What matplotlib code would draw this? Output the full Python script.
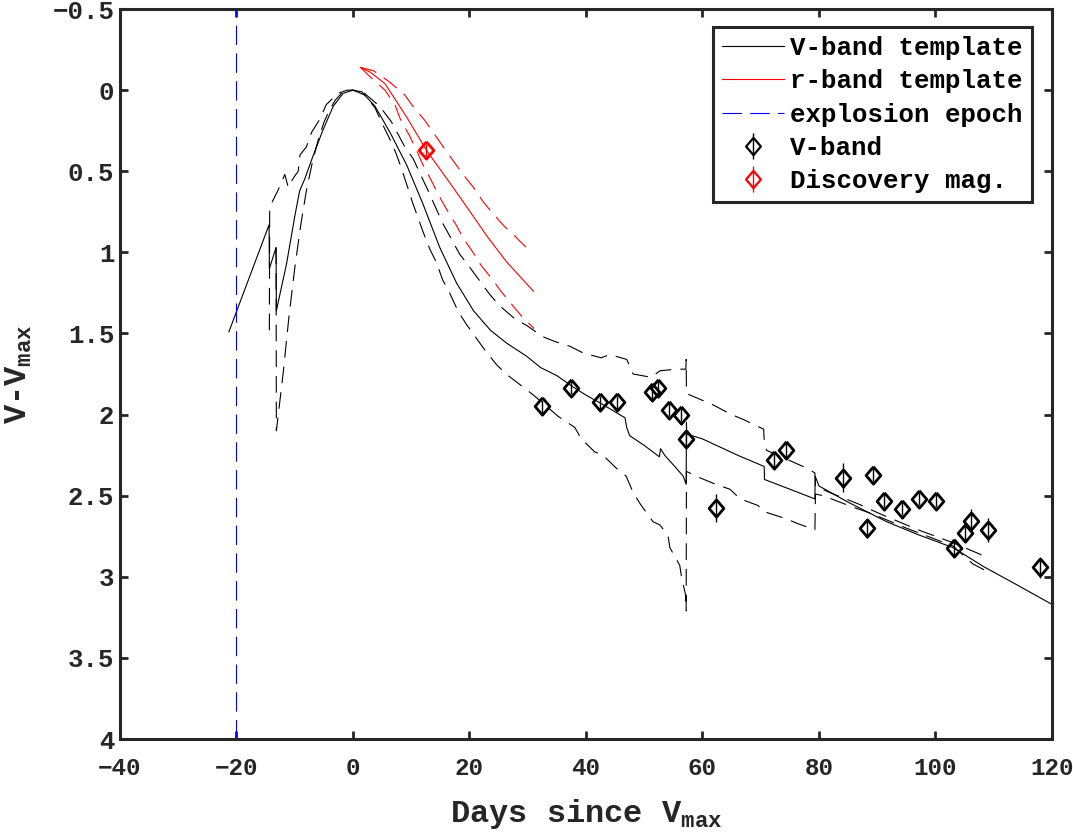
import matplotlib
matplotlib.use("Agg")
import matplotlib.pyplot as plt
import numpy as np
from matplotlib.ticker import FuncFormatter

# ---- data ----
# V-band template (solid) and its two error envelopes (dashed)
v_days = [-21.3, -14.4, -14.35, -13.2, -13.15, -11.4, -10.0, -9.15, -8.3, -6.9, -5.2, -3.4, -1.7, 0.0,
          1.5, 3.8, 6.5, 9.2, 12.0, 14.9, 17.8, 20.7, 23.6, 26.4, 29.8, 32.2, 35.0, 37.8, 40.0, 43.0,
          46.7, 47.0, 47.5, 50.0, 52.6, 52.8, 53.5, 55.0, 56.7, 57.2, 57.25, 57.3, 60.0, 63.0, 66.0,
          70.6, 70.65, 75.0, 79.3, 79.35, 80.0, 85.0, 91.6, 97.0, 103.0, 108.4, 114.0, 120.0]
v_mag = [1.49, 0.83, 1.10, 0.97, 1.36, 1.07, 0.78, 0.62, 0.55, 0.41, 0.25, 0.10, 0.02, 0.0,
         0.01, 0.10, 0.27, 0.46, 0.70, 0.97, 1.19, 1.36, 1.48, 1.56, 1.64, 1.71, 1.76, 1.83, 1.88, 1.94,
         2.02, 2.08, 2.13, 2.19, 2.26, 2.21, 2.25, 2.31, 2.38, 2.43, 2.05, 2.12, 2.15, 2.20, 2.25,
         2.32, 2.40, 2.46, 2.52, 2.38, 2.44, 2.54, 2.66, 2.74, 2.82, 2.94, 3.05, 3.17]

v_hi_days = [-14.35, -14.3, -12.9, -11.7, -11.1, -10.2, -9.4, -9.1, -8.0, -7.1, -5.7, -4.6, -2.6, -1.0, 0.0,
             2.0, 4.6, 6.6, 8.9, 10.3, 12.9, 15.4, 18.3, 20.0, 23.5, 25.2, 27.8, 29.8, 32.6, 34.7,
             37.3, 39.5, 42.6, 44.1, 47.0, 48.1, 51.2, 52.7, 55.5, 57.15, 57.2, 57.25, 61.8, 65.0,
             67.0, 70.5, 70.6, 71.0, 77.9, 79.3, 79.4, 81.8, 86.7, 91.0, 97.0, 103.0, 107.6, 108.5]
v_hi_mag = [1.48, 0.72, 0.62, 0.52, 0.60, 0.54, 0.50, 0.40, 0.35, 0.26, 0.18, 0.09, 0.02, 0.0, 0.0,
            0.02, 0.10, 0.195, 0.35, 0.42, 0.62, 0.82, 1.01, 1.09, 1.26, 1.33, 1.41, 1.45, 1.52, 1.55,
            1.58, 1.62, 1.65, 1.63, 1.66, 1.75, 1.77, 1.73, 1.72, 1.72, 1.66, 1.87, 1.94, 2.00,
            2.03, 2.09, 2.16, 2.22, 2.33, 2.36, 2.44, 2.48, 2.55, 2.62, 2.71, 2.79, 2.86, 2.88]

v_lo_days = [-13.2, -13.15, -12.0, -11.0, -10.0, -9.0, -8.0, -7.0, -6.0, -5.0, -4.0, -3.0, -2.0, -1.0, 0.0,
             2.0, 3.8, 5.2, 6.3, 7.4, 8.3, 9.4, 10.2, 11.1, 12.0, 13.2, 14.3, 15.4, 16.6, 18.0,
             19.4, 21.2, 22.6, 24.6, 26.3, 29.2, 31.0, 35.2, 38.1, 39.2, 41.5, 42.9, 45.2, 46.9,
             48.1, 49.3, 51.5, 52.7, 54.1, 54.4, 56.1, 56.4, 57.15, 57.2, 57.25, 58.9, 62.3, 64.7,
             66.5, 69.5, 70.7, 74.2, 76.2, 79.3, 79.4, 80.7, 83.6, 85.8, 89.0, 95.0, 103.0, 106.4, 108.5]
v_lo_mag = [0.97, 2.10, 1.75, 1.40, 1.10, 0.84, 0.62, 0.45, 0.31, 0.20, 0.12, 0.06, 0.02, 0.005, 0.0,
            0.03, 0.11, 0.22, 0.30, 0.39, 0.48, 0.60, 0.69, 0.78, 0.87, 0.98, 1.06, 1.17, 1.25, 1.36,
            1.44, 1.53, 1.60, 1.69, 1.75, 1.83, 1.88, 2.01, 2.08, 2.15, 2.23, 2.25, 2.33, 2.38,
            2.48, 2.55, 2.66, 2.68, 2.75, 2.82, 2.93, 3.00, 3.12, 3.21, 2.35, 2.38, 2.43, 2.46,
            2.52, 2.56, 2.60, 2.64, 2.67, 2.71, 2.49, 2.50, 2.54, 2.57, 2.61, 2.70, 2.81, 2.92, 2.96]

# r-band template and envelopes
r_days = [1.3, 3.0, 5.5, 9.2, 12.6, 16.7, 20.7, 23.0, 26.4, 31.0]
r_mag = [-0.14, -0.11, -0.04, 0.165, 0.37, 0.575, 0.78, 0.90, 1.06, 1.24]
r_hi_days = [1.3, 3.5, 6.3, 8.9, 10.3, 12.3, 13.7, 15.7, 17.1, 18.9, 20.7, 22.4, 24.0, 26.0, 27.8, 30.3]
r_hi_mag = [-0.14, -0.12, -0.05, 0.03, 0.10, 0.185, 0.257, 0.36, 0.43, 0.52, 0.60, 0.69, 0.76, 0.84, 0.90, 0.99]
r_lo_days = [1.3, 3.0, 5.5, 7.2, 8.2, 9.7, 10.9, 12.0, 13.2, 14.9, 16.0, 17.7, 18.9, 20.6, 22.0, 24.0,
             25.4, 27.7, 29.1, 31.1]
r_lo_mag = [-0.14, -0.08, 0.0, 0.09, 0.185, 0.28, 0.37, 0.46, 0.54, 0.66, 0.73, 0.83, 0.91, 1.0, 1.08, 1.17,
            1.24, 1.34, 1.40, 1.47]

explosion_day = -20.0

# V-band photometry
obs_days = [32.5, 37.4, 42.4, 45.4, 51.3, 52.4, 54.3, 56.4, 57.2, 62.3, 72.3, 74.3, 84.2, 88.2, 89.2,
            91.2, 94.2, 97.1, 100.1, 103.1, 105.1, 106.1, 109.1, 118.0]
obs_mag = [1.95, 1.835, 1.925, 1.925, 1.86, 1.835, 1.97, 2.00, 2.15, 2.575, 2.28, 2.22, 2.39, 2.70, 2.37,
           2.53, 2.58, 2.52, 2.53, 2.82, 2.73, 2.655, 2.71, 2.94]
obs_err = [0.04, 0.04, 0.04, 0.04, 0.05, 0.04, 0.04, 0.04, 0.05, 0.085, 0.05, 0.05, 0.09, 0.06, 0.04,
           0.04, 0.04, 0.04, 0.04, 0.055, 0.05, 0.075, 0.075, 0.065]

disc_day = [12.6]
disc_mag = [0.37]
disc_err = [0.04]

# ---- style ----
plt.rcParams['font.family'] = ['Liberation Mono', 'DejaVu Sans']
plt.rcParams['font.weight'] = 'bold'
plt.rcParams['mathtext.fontset'] = 'custom'
plt.rcParams['mathtext.rm'] = 'Liberation Mono:bold'
plt.rcParams['mathtext.it'] = 'Liberation Mono:bold'
plt.rcParams['mathtext.bf'] = 'Liberation Mono:bold'
plt.rcParams['lines.scale_dashes'] = False

axcol = '#262626'
dash = (12, 6.5)
diamond = [(0, 1), (0.85, 0), (0, -1), (-0.85, 0), (0, 1)]
msize = 12.5

fig = plt.figure(figsize=(10.73, 8.36), dpi=100)
ax = fig.add_axes([0.1118, 0.116, 0.8686, 0.8732])

ax.plot(v_days, v_mag, color='k', lw=0.8, label='V-band template')
ax.plot(v_hi_days, v_hi_mag, color='k', lw=0.8, dashes=dash)
ax.plot(v_lo_days, v_lo_mag, color='k', lw=0.8, dashes=dash)

ax.plot(r_days, r_mag, color='r', lw=0.8, label='r-band template')
ax.plot(r_hi_days, r_hi_mag, color='r', lw=0.8, dashes=dash)
ax.plot(r_lo_days, r_lo_mag, color='r', lw=0.8, dashes=dash)

ax.axvline(explosion_day, color='b', lw=0.8, dashes=(14, 6), label='explosion epoch')

ax.errorbar(obs_days, obs_mag, yerr=obs_err, fmt='none', ecolor='k', elinewidth=1.0, capsize=0, zorder=4)
ax.plot(obs_days, obs_mag, ls='none', marker=diamond, ms=msize, mfc='none', mec='k', mew=2.0, zorder=5)
ax.errorbar(disc_day, disc_mag, yerr=disc_err, fmt='none', ecolor='r', elinewidth=1.0, capsize=0, zorder=4)
ax.plot(disc_day, disc_mag, ls='none', marker=diamond, ms=msize, mfc='none', mec='r', mew=2.0, zorder=5)

# legend proxies for the point series (marker with a vertical error bar)
h_v = ax.errorbar([np.nan], [np.nan], yerr=[0.1], ls='none', marker=diamond, ms=msize, mfc='none',
                  mec='k', mew=1.6, ecolor='k', elinewidth=1.0, capsize=0, label='V-band')
h_d = ax.errorbar([np.nan], [np.nan], yerr=[0.1], ls='none', marker=diamond, ms=msize, mfc='none',
                  mec='r', mew=1.6, ecolor='r', elinewidth=1.0, capsize=0, label='Discovery mag.')

ax.set_xlim(-40, 120)
ax.set_ylim(4, -0.5)
ax.set_xticks(np.arange(-40, 121, 20))
ax.set_yticks(np.arange(-0.5, 4.01, 0.5))
fmt = FuncFormatter(lambda v, p: ('%g' % v).replace('-', '\u2212'))
ax.xaxis.set_major_formatter(fmt)
ax.yaxis.set_major_formatter(fmt)

for s in ax.spines.values():
    s.set_linewidth(2.2)
    s.set_color(axcol)
ax.tick_params(direction='in', length=6, width=2.0, colors=axcol, labelsize=18.5,
               top=True, right=True, labelcolor=axcol)
ax.tick_params(axis='x', pad=13, labelsize=17.5)
ax.tick_params(axis='y', pad=4)

ax.set_xlabel('Days since V$_{max}$', fontsize=23, fontweight='bold', color=axcol, labelpad=12)
ax.set_ylabel('V-V$_{max}$', fontsize=23, fontweight='bold', color=axcol, labelpad=13)

handles, labels = ax.get_legend_handles_labels()
order = ['V-band template', 'r-band template', 'explosion epoch', 'V-band', 'Discovery mag.']
hmap = dict(zip(labels, handles))
leg = ax.legend([hmap[k] for k in order], order, loc='upper right', bbox_to_anchor=(0.9785, 0.9753),
                borderaxespad=0, fontsize=18.5, handlelength=2.4, handletextpad=0.25, borderpad=0.35,
                labelspacing=0.36, fancybox=False, framealpha=1, edgecolor=axcol)
leg.get_frame().set_linewidth(2.2)

fig.savefig('out.png', dpi=100)
